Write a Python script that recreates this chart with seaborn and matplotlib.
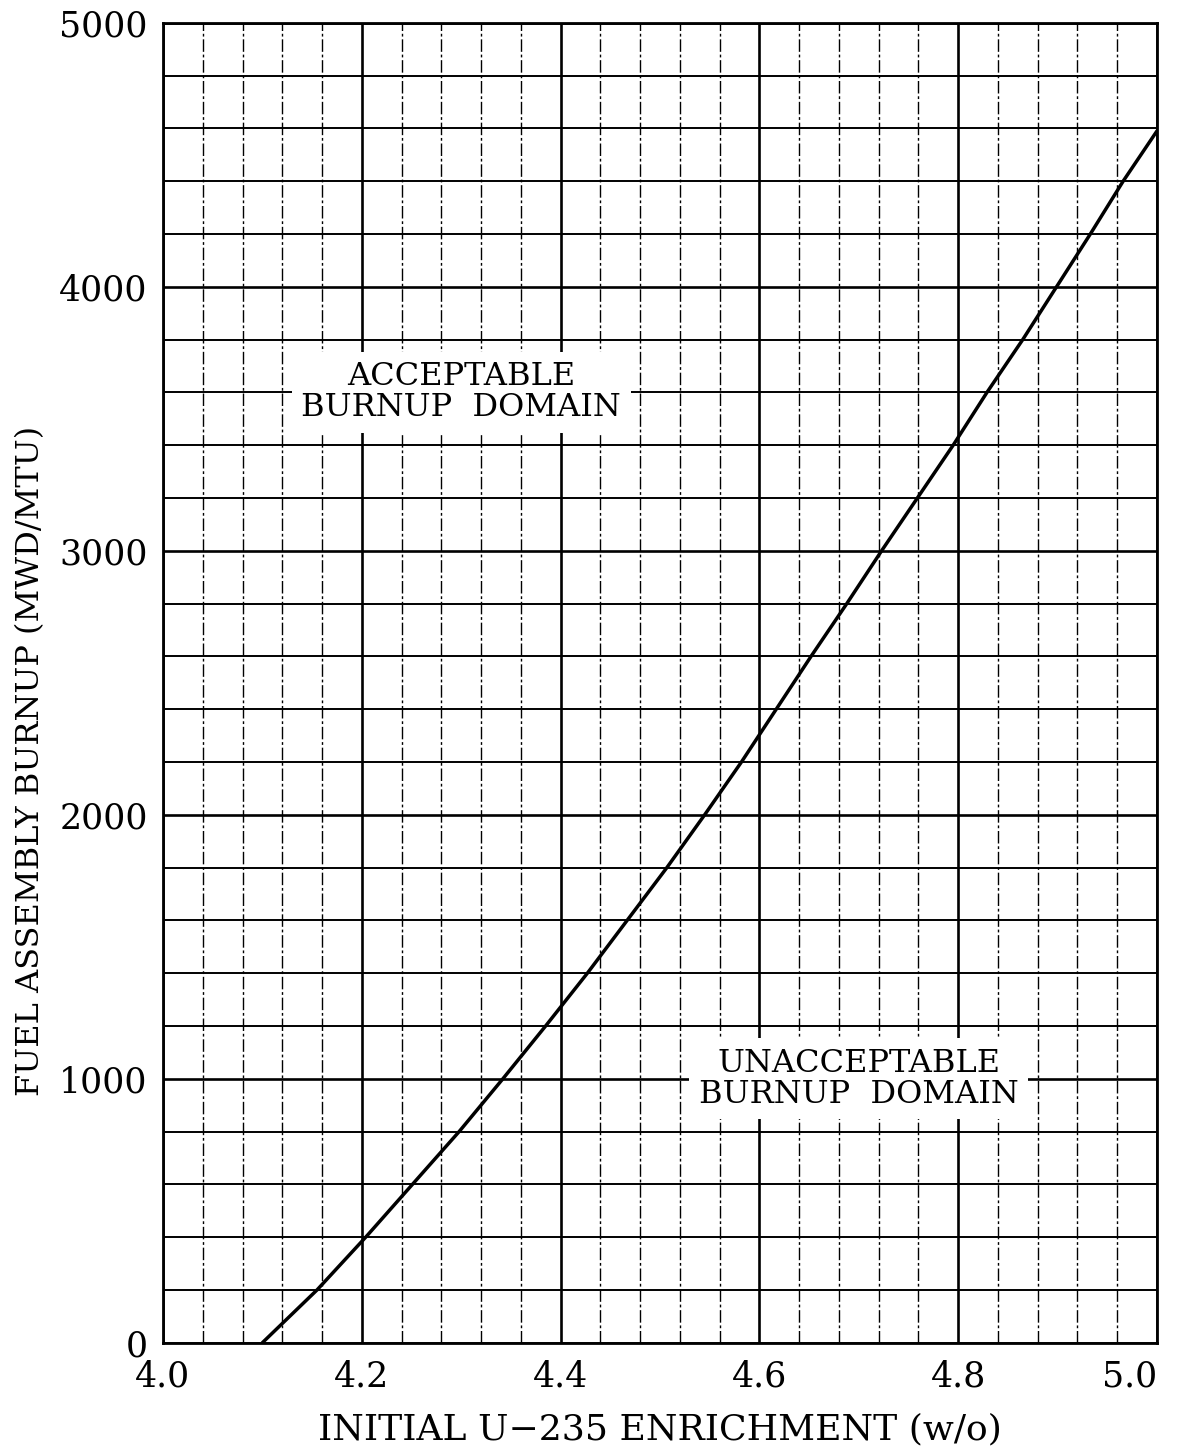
import numpy as np
import pandas as pd
import matplotlib
matplotlib.use("Agg")
import matplotlib.pyplot as plt
from matplotlib.ticker import MultipleLocator
import seaborn as sns

# Minimum burnup limit curve: initial enrichment (w/o) vs assembly burnup (MWD/MTU)
enrichment = [4.100, 4.155, 4.204, 4.251, 4.298, 4.342, 4.385, 4.427, 4.467,
              4.507, 4.545, 4.582, 4.617, 4.652, 4.688, 4.723, 4.759, 4.795,
              4.829, 4.865, 4.899, 4.933, 4.966, 5.000]
burnup = [0, 200, 400, 600, 800, 1000, 1200, 1400, 1600,
          1800, 2000, 2200, 2400, 2600, 2800, 3000, 3200, 3400,
          3600, 3800, 4000, 4200, 4400, 4590]

x_ticks = [4.0, 4.2, 4.4, 4.6, 4.8, 5.0]
x_tick_labels = ["4.0", "4.2", "4.4", "4.6", "4.8", "5.0"]
y_ticks = [0, 1000, 2000, 3000, 4000, 5000]
y_tick_labels = ["0", "1000", "2000", "3000", "4000", "5000"]

region_labels = ["ACCEPTABLE\nBURNUP  DOMAIN", "UNACCEPTABLE\nBURNUP  DOMAIN"]
region_pos = [(4.30, 3600), (4.70, 1000)]

df = pd.DataFrame({"enrichment": enrichment, "burnup": burnup})

sns.set_theme(style="white")
plt.rcParams["font.family"] = ["DejaVu Serif", "DejaVu Sans"]
plt.rcParams["text.color"] = "black"
plt.rcParams["axes.labelcolor"] = "black"
plt.rcParams["xtick.color"] = "black"
plt.rcParams["ytick.color"] = "black"

fig = plt.figure(figsize=(11.95, 14.51), dpi=100)
ax = fig.add_axes([163 / 1195, 1 - 1342.7 / 1451, 994 / 1195, 1320 / 1451])

sns.lineplot(data=df, x="enrichment", y="burnup", ax=ax, color="black",
             linewidth=2.5, zorder=4)

ax.set_xlim(4.0, 5.0)
ax.set_ylim(0, 5000)
ax.set_xticks(x_ticks)
ax.set_xticklabels(x_tick_labels)
ax.set_yticks(y_ticks)
ax.set_yticklabels(y_tick_labels)
ax.xaxis.set_minor_locator(MultipleLocator(0.04))
ax.yaxis.set_minor_locator(MultipleLocator(200))

ax.set_axisbelow(True)
ax.grid(which="major", axis="both", color="black", linewidth=1.9, linestyle="-")
ax.grid(which="minor", axis="y", color="black", linewidth=1.4, linestyle="-")
ax.grid(which="minor", axis="x", color="black", linewidth=1.0,
        linestyle=(0, (9, 2, 2, 2)))

ax.tick_params(which="both", length=0, colors="black")
ax.tick_params(axis="x", labelsize=25, pad=12)
ax.tick_params(axis="y", labelsize=25, pad=11)
ax.get_xticklabels()[-1].set_horizontalalignment("right")

for s in ax.spines.values():
    s.set_color("black")
    s.set_linewidth(2.0)

ax.set_xlabel("INITIAL U\u2212235 ENRICHMENT (w/o)", fontsize=26, labelpad=14,
              color="black")
ax.set_ylabel("FUEL ASSEMBLY BURNUP (MWD/MTU)", fontsize=23, color="black")
ax.yaxis.set_label_coords(-0.118, 0.441)

for txt, (tx, ty) in zip(region_labels, region_pos):
    ax.text(tx, ty, txt, ha="center", va="center", fontsize=23, color="black",
            linespacing=1.0, multialignment="center", zorder=5,
            bbox=dict(facecolor="white", edgecolor="none", pad=7))

fig.savefig("out.png", dpi=100, facecolor="white")
